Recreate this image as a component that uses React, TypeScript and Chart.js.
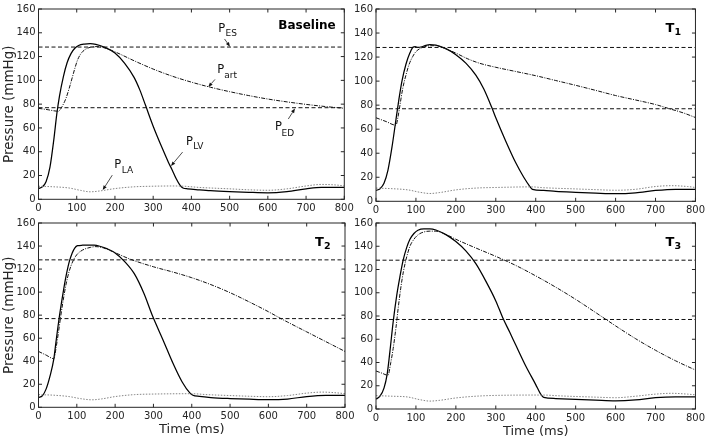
import React, { useEffect, useRef } from "react";
import { Chart, registerables } from "chart.js";

Chart.register(...registerables);

const FONT = "'DejaVu Sans', 'Noto Sans', sans-serif";
const INK = "#262626";

// Axis ranges and tick steps
const X_MIN = 0;
const X_MAX = 800;
const X_STEP = 100;
const Y_MIN = 0;
const Y_MAX = 160;
const Y_STEP = 20;

// Reference pressures (mmHg)
const P_ES = 128;
const P_ED = 77;

type Pt = [number, number];

// ---- Baseline ----
const baselineLV: Pt[] = [
  [0, 9], [10, 10.5], [20, 15], [30, 27], [40, 50], [48, 72], [55, 87], [65, 103], [75, 115],
  [85, 122.5], [95, 127], [105, 129.3], [120, 130.5], [135, 130.8], [150, 130.2], [175, 127.5],
  [200, 123], [225, 114.5], [250, 102.5], [265, 92], [280, 79], [300, 61.5], [325, 42], [340, 31],
  [350, 24.5], [360, 17.5], [370, 12], [378, 9.5], [390, 8.8], [420, 8], [450, 7.3], [500, 6.5],
  [550, 5.9], [600, 5.5], [650, 6.5], [700, 8.8], [740, 10], [800, 10],
];
const baselineArt: Pt[] = [
  [0, 76.5], [25, 75.3], [52, 74], [58, 76], [65, 80], [72, 85], [80, 93], [88, 102], [95, 110],
  [102, 117], [110, 122], [120, 125.5], [135, 127.8], [150, 128.4], [165, 128], [180, 126.5],
  [200, 124], [250, 116.5], [300, 109.5], [350, 103.5], [400, 98.5], [450, 94.2], [500, 90.5],
  [550, 87.2], [600, 84.3], [650, 81.9], [700, 79.8], [750, 78], [800, 76.5],
];
const baselineLA: Pt[] = [
  [0, 11], [40, 10.5], [80, 9.5], [110, 7.5], [135, 6.3], [160, 7], [200, 9], [250, 10.5],
  [300, 11], [350, 11.2], [380, 11], [420, 10], [500, 8.8], [550, 8], [600, 7.6], [650, 8.8],
  [700, 11.2], [740, 12.5], [780, 12], [800, 11.2],
];

// ---- T1 ----
const t1LV: Pt[] = [
  [0, 9], [10, 10.5], [20, 15], [30, 26], [40, 45], [50, 68], [57, 84], [65, 100], [75, 114],
  [85, 123.5], [93, 128.3], [98, 128.6], [105, 128], [115, 128.6], [125, 129.8], [135, 130.4],
  [150, 130], [175, 127], [200, 122], [225, 115], [250, 105], [270, 93.5], [290, 78], [300, 69.5],
  [325, 50], [350, 32], [370, 20], [385, 12.5], [392, 10], [420, 9], [450, 8.3], [500, 7.5],
  [550, 6.8], [600, 6.3], [650, 7], [700, 9], [750, 10], [800, 10],
];
const t1Art: Pt[] = [
  [0, 69.5], [25, 66.4], [50, 63.3], [55, 70], [60, 80], [67, 94], [75, 105], [83, 114],
  [92, 120.5], [100, 124.5], [115, 127.8], [135, 129.4], [150, 129.5], [170, 127.5], [200, 123.3],
  [230, 118.5], [260, 114.8], [300, 111.5], [350, 108], [400, 104.5], [450, 100.5], [500, 96.5],
  [550, 92.3], [600, 88], [650, 84.3], [700, 80.5], [735, 77], [770, 73.5], [800, 69.7],
];
const t1LA: Pt[] = [
  [0, 11], [40, 10.5], [80, 9.5], [110, 7.5], [135, 6.5], [160, 7.3], [200, 9.5], [250, 11],
  [300, 11.5], [390, 12], [420, 11.3], [500, 10.3], [550, 9.7], [600, 9.2], [650, 10],
  [700, 12.3], [740, 13], [780, 12.3], [800, 11.5],
];

// ---- T2 ----
const t2LV: Pt[] = [
  [0, 8.6], [10, 10], [20, 16], [30, 27], [40, 42], [45, 55], [50, 68], [55, 80], [60, 91],
  [66, 103], [72, 114], [80, 126], [88, 134], [95, 138.5], [102, 140.3], [115, 140.7],
  [130, 140.9], [145, 140.8], [160, 139.8], [180, 137.5], [200, 134], [225, 126.5], [250, 116],
  [275, 99], [298, 79], [325, 58.5], [350, 39], [375, 22], [395, 12.5], [403, 10.5],
  [420, 9.5], [450, 8.5], [500, 7.6], [550, 7], [600, 6.6], [650, 7.2], [700, 9.3], [750, 10.3],
  [800, 10.3],
];
const t2Art: Pt[] = [
  [0, 48.5], [20, 45.3], [40, 42.2], [46, 52], [52, 65], [58, 79], [65, 94], [72, 107],
  [80, 118], [90, 127], [100, 132.5], [115, 136.5], [135, 138.8], [150, 139.5], [170, 138.3],
  [200, 134.2], [240, 128.5], [300, 122], [350, 117.5], [400, 112.5], [450, 106.5], [500, 99.5],
  [550, 91.5], [600, 83], [630, 77.5], [650, 74], [700, 65.5], [750, 57], [800, 48.5],
];
const t2LA: Pt[] = [
  [0, 11], [40, 10.5], [80, 9.3], [110, 7.5], [140, 6.5], [165, 7.3], [200, 9.3], [250, 11],
  [300, 11.5], [400, 11.8], [440, 11], [500, 10.2], [550, 9.6], [600, 9.2], [650, 10.2],
  [700, 12.3], [740, 13.2], [780, 12.5], [800, 11.8],
];

// ---- T3 ----
const t3LV: Pt[] = [
  [0, 8.5], [10, 11], [20, 18], [28, 30], [35, 50], [43, 75], [52, 98], [60, 114], [68, 128],
  [77, 139], [85, 146], [95, 151], [105, 153.8], [120, 155], [135, 155], [150, 154], [175, 150],
  [200, 144], [225, 136], [250, 125], [275, 110], [300, 93], [318, 78], [335, 66], [350, 55],
  [375, 37], [400, 21], [412, 13], [420, 10], [450, 9], [500, 8.3], [550, 7.6], [600, 7],
  [650, 7.8], [700, 9.8], [750, 10.5], [800, 10.5],
];
const t3Art: Pt[] = [
  [0, 32.7], [15, 30.8], [30, 29], [37, 40], [43, 52], [50, 70], [56, 88], [62, 104],
  [68.5, 118], [77, 131], [85, 140], [95, 146], [106, 150], [120, 152.3], [135, 153], [150, 153],
  [175, 150.2], [200, 146], [250, 138.5], [300, 131.3], [350, 123.5], [400, 114.5],
  [450, 104.8], [500, 94.3], [550, 83], [600, 71.5], [650, 60.5], [700, 50.5],
  [750, 41.5], [800, 33.5],
];
const t3LA: Pt[] = [
  [0, 11.5], [40, 11], [80, 10.3], [110, 8], [135, 6.8], [160, 7.5], [200, 9.5], [250, 11],
  [300, 11.7], [420, 12], [460, 11.3], [550, 10.2], [600, 9.7], [650, 11], [700, 12.8],
  [740, 13.5], [780, 12.8], [800, 12.2],
];

// Labels with arrows on the Baseline panel (data coordinates)
type Note = { main: string; sub: string; text: Pt; subAt: Pt; from: Pt; to: Pt };
const baselineNotes: Note[] = [
  { main: "P", sub: "ES", text: [470, 140.3], subAt: [489.5, 137], from: [486.7, 134.8], to: [501, 128.3] },
  { main: "P", sub: "art", text: [467.8, 106.3], subAt: [486, 101.7], from: [461.7, 100.8], to: [444.2, 94.4] },
  { main: "P", sub: "ED", text: [618.7, 58.3], subAt: [636, 53.6], from: [653.5, 67.5], to: [671, 76.3] },
  { main: "P", sub: "LV", text: [386, 46], subAt: [405, 41.9], from: [377, 39.7], to: [346.6, 28] },
  { main: "P", sub: "LA", text: [198, 26.3], subAt: [217.6, 21.7], from: [193, 20.3], to: [168, 7.75] },
];

type Box = { left: number; top: number; width: number; height: number };
type Area = { left: number; top: number; right: number; bottom: number };
type PanelDef = {
  title: string;
  sub: string;
  lv: Pt[];
  art: Pt[];
  la: Pt[];
  notes: Note[];
  box: Box;
  area: Area;
  yTitle: boolean;
  xTitle: boolean;
  xTitlePad: number;
};

const PANELS: PanelDef[] = [
  {
    title: "Baseline", sub: "", lv: baselineLV, art: baselineArt, la: baselineLA, notes: baselineNotes,
    box: { left: 0, top: 0, width: 358, height: 218 },
    area: { left: 38.5, top: 7.3, right: 344.3, bottom: 199.3 },
    yTitle: true, xTitle: false, xTitlePad: 0,
  },
  {
    title: "T", sub: "1", lv: t1LV, art: t1Art, la: t1LA, notes: [],
    box: { left: 350, top: 0, width: 358, height: 218 },
    area: { left: 376, top: 7.3, right: 696, bottom: 201.3 },
    yTitle: false, xTitle: false, xTitlePad: 0,
  },
  {
    title: "T", sub: "2", lv: t2LV, art: t2Art, la: t2LA, notes: [],
    box: { left: 0, top: 214, width: 358, height: 227 },
    area: { left: 38.5, top: 221.7, right: 345, bottom: 407.3 },
    yTitle: true, xTitle: true, xTitlePad: 3.2,
  },
  {
    title: "T", sub: "3", lv: t3LV, art: t3Art, la: t3LA, notes: [],
    box: { left: 350, top: 214, width: 358, height: 227 },
    area: { left: 376, top: 222, right: 696, bottom: 409 },
    yTitle: false, xTitle: true, xTitlePad: 1.2,
  },
];

const toXY = (pts: Pt[]) => pts.map(([x, y]) => ({ x, y }));

function drawArrow(ctx: CanvasRenderingContext2D, x0: number, y0: number, x1: number, y1: number) {
  const ang = Math.atan2(y1 - y0, x1 - x0);
  const len = 4.5;
  const hw = 1.8;
  const bx = x1 - len * Math.cos(ang);
  const by = y1 - len * Math.sin(ang);
  ctx.beginPath();
  ctx.moveTo(x0, y0);
  ctx.lineTo(bx, by);
  ctx.stroke();
  ctx.beginPath();
  ctx.moveTo(x1, y1);
  ctx.lineTo(bx + hw * Math.sin(ang), by - hw * Math.cos(ang));
  ctx.lineTo(bx - hw * Math.sin(ang), by + hw * Math.cos(ang));
  ctx.closePath();
  ctx.fill();
}

function makeFramePlugin(p: PanelDef) {
  return {
    id: "frame",
    afterDraw(chart: any) {
      const { ctx, chartArea: a, scales } = chart;
      const xs = scales.x;
      const ys = scales.y;
      ctx.save();
      ctx.strokeStyle = INK;
      ctx.lineWidth = 1;
      ctx.setLineDash([]);
      ctx.strokeRect(a.left, a.top, a.right - a.left, a.bottom - a.top);
      const tl = 3.5;
      ctx.beginPath();
      for (const t of xs.ticks) {
        const px = xs.getPixelForValue(t.value);
        ctx.moveTo(px, a.bottom);
        ctx.lineTo(px, a.bottom - tl);
        ctx.moveTo(px, a.top);
        ctx.lineTo(px, a.top + tl);
      }
      for (const t of ys.ticks) {
        const py = ys.getPixelForValue(t.value);
        ctx.moveTo(a.left, py);
        ctx.lineTo(a.left + tl, py);
        ctx.moveTo(a.right, py);
        ctx.lineTo(a.right - tl, py);
      }
      ctx.stroke();

      // panel label
      ctx.fillStyle = "#000";
      ctx.textBaseline = "alphabetic";
      if (p.sub === "") {
        ctx.font = `bold 12px ${FONT}`;
        ctx.textAlign = "right";
        ctx.fillText(p.title, a.right - 8.6, a.top + 20);
      } else {
        ctx.font = `bold 13px ${FONT}`;
        ctx.textAlign = "left";
        const tx = a.right - 30;
        const ty = a.top + 23;
        ctx.fillText(p.title, tx, ty);
        const w = ctx.measureText(p.title).width;
        ctx.font = `bold 9.5px ${FONT}`;
        ctx.fillText(p.sub, tx + w + 0.2, ty + 3.3);
      }

      // annotations
      ctx.strokeStyle = "#222";
      ctx.fillStyle = "#111";
      ctx.lineWidth = 0.8;
      ctx.textAlign = "left";
      for (const n of p.notes) {
        ctx.font = `11.5px ${FONT}`;
        ctx.fillText(n.main, xs.getPixelForValue(n.text[0]), ys.getPixelForValue(n.text[1]));
        ctx.font = `9px ${FONT}`;
        ctx.fillText(n.sub, xs.getPixelForValue(n.subAt[0]), ys.getPixelForValue(n.subAt[1]));
        drawArrow(
          ctx,
          xs.getPixelForValue(n.from[0]), ys.getPixelForValue(n.from[1]),
          xs.getPixelForValue(n.to[0]), ys.getPixelForValue(n.to[1])
        );
      }
      ctx.restore();
    },
  };
}

function Panel({ p }: { p: PanelDef }) {
  const ref = useRef<HTMLCanvasElement>(null);
  useEffect(() => {
    const canvas = ref.current;
    if (!canvas) return;
    const padTop = p.area.top - p.box.top;
    const padRight = p.box.left + p.box.width - p.area.right;
    const yWidth = p.area.left - p.box.left;
    const xHeight = p.box.top + p.box.height - p.area.bottom;
    const line = { pointRadius: 0, pointHoverRadius: 0, fill: false, spanGaps: true };
    const chart = new Chart(canvas, {
      type: "line",
      data: {
        datasets: [
          {
            ...line, label: "P_LA", data: toXY(p.la), borderColor: "#858585", borderWidth: 1,
            borderDash: [1.5, 1.5], cubicInterpolationMode: "monotone",
          },
          {
            ...line, label: "P_ES", data: [{ x: X_MIN, y: P_ES }, { x: X_MAX, y: P_ES }],
            borderColor: "#111", borderWidth: 1, borderDash: [4, 2.5], tension: 0,
          },
          {
            ...line, label: "P_ED", data: [{ x: X_MIN, y: P_ED }, { x: X_MAX, y: P_ED }],
            borderColor: "#111", borderWidth: 1, borderDash: [4, 2.5], tension: 0,
          },
          {
            ...line, label: "P_art", data: toXY(p.art), borderColor: "#111", borderWidth: 1,
            borderDash: [4, 1.3, 1, 1.3], cubicInterpolationMode: "monotone",
          },
          {
            ...line, label: "P_LV", data: toXY(p.lv), borderColor: "#000", borderWidth: 1.25,
            cubicInterpolationMode: "monotone",
          },
        ] as any,
      },
      options: {
        animation: false,
        responsive: false,
        devicePixelRatio: 1,
        events: [],
        layout: { padding: { top: padTop, right: padRight, left: 0, bottom: 0 } },
        plugins: {
          legend: { display: false },
          tooltip: { enabled: false },
          title: { display: false },
        },
        scales: {
          x: {
            type: "linear",
            min: X_MIN,
            max: X_MAX,
            grid: { display: false, drawTicks: false },
            border: { display: false },
            ticks: {
              stepSize: X_STEP, autoSkip: false, maxRotation: 0, padding: 3, color: INK,
              font: { family: FONT, size: 10 },
            },
            title: {
              display: p.xTitle, text: "Time (ms)", color: INK,
              font: { family: FONT, size: 13 }, padding: { top: 0, bottom: p.xTitlePad },
            },
            afterFit: (s: any) => { s.height = xHeight; },
          },
          y: {
            type: "linear",
            min: Y_MIN,
            max: Y_MAX,
            grid: { display: false, drawTicks: false },
            border: { display: false },
            ticks: {
              stepSize: Y_STEP, autoSkip: false, padding: 3, color: INK,
              font: { family: FONT, size: 10 },
            },
            title: {
              display: p.yTitle, text: "Pressure (mmHg)", color: INK,
              font: { family: FONT, size: 13.5 }, padding: { top: 1.4, bottom: 0 },
            },
            afterFit: (s: any) => { s.width = yWidth; },
          },
        },
      } as any,
      plugins: [makeFramePlugin(p)],
    });
    return () => chart.destroy();
  }, [p]);
  return (
    <canvas
      ref={ref}
      width={p.box.width}
      height={p.box.height}
      style={{
        position: "absolute",
        left: p.box.left,
        top: p.box.top,
        width: p.box.width,
        height: p.box.height,
      }}
    />
  );
}

export default function App() {
  return (
    <div
      style={{
        position: "absolute",
        left: 0,
        top: 0,
        width: 708,
        height: 441,
        background: "#fff",
        overflow: "hidden",
      }}
    >
      {PANELS.map((p, i) => (
        <Panel key={i} p={p} />
      ))}
    </div>
  );
}
